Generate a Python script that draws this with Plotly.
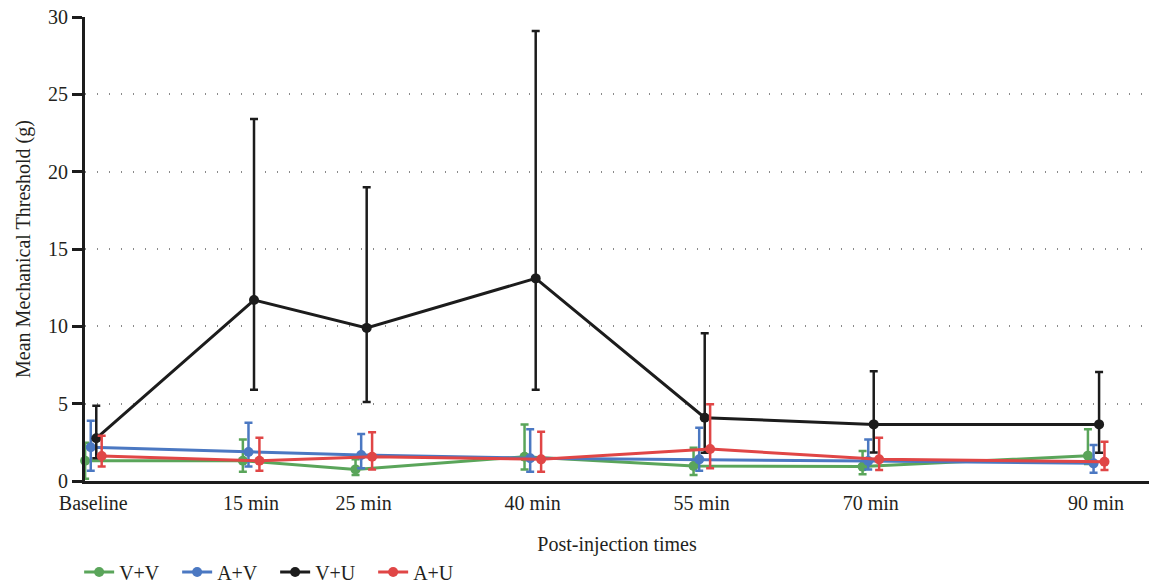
import plotly.graph_objects as go

# ---- data ----
time_labels = ["Baseline", "15 min", "25 min", "40 min", "55 min", "70 min", "90 min"]
time_pos = [1, 15, 25, 40, 55, 70, 90]

series_names = ["V+V", "A+V", "V+U", "A+U"]

vv_mean = [1.31, 1.31, 0.75, 1.57, 0.97, 0.93, 1.64]
vv_upper = [2.48, 2.69, 1.40, 3.66, 2.15, 1.94, 3.34]
vv_lower = [0.14, 0.60, 0.39, 0.75, 0.39, 0.43, 1.10]

av_mean = [2.18, 1.87, 1.68, 1.47, 1.40, 1.29, 1.14]
av_upper = [3.90, 3.77, 3.04, 3.34, 3.45, 2.69, 2.33]
av_lower = [0.67, 0.93, 0.82, 0.60, 0.67, 0.75, 0.54]

vu_mean = [2.76, 11.7, 9.9, 13.1, 4.09, 3.66, 3.66]
vu_upper = [4.87, 23.4, 19.0, 29.1, 9.55, 7.10, 7.05]
vu_lower = [1.47, 5.9, 5.1, 5.9, 1.83, 1.85, 1.83]

au_mean = [1.62, 1.31, 1.57, 1.40, 2.07, 1.40, 1.25]
au_upper = [2.93, 2.80, 3.15, 3.19, 4.96, 2.80, 2.54]
au_lower = [0.93, 0.67, 0.75, 0.60, 0.82, 0.71, 0.71]

# ---- styles ----
colors = ["#5aa55a", "#4b78c2", "#1c1c1c", "#e04646"]
dodge = [-0.72, -0.22, 0.27, 0.75]
font_family = "Liberation Serif"
text_color = "#231f20"

all_series = [
    (vv_mean, vv_upper, vv_lower),
    (av_mean, av_upper, av_lower),
    (vu_mean, vu_upper, vu_lower),
    (au_mean, au_upper, au_lower),
]

fig = go.Figure()
for name, (m, up, lo), col, dx in zip(series_names, all_series, colors, dodge):
    fig.add_trace(go.Scatter(
        x=[t + dx for t in time_pos],
        y=m,
        name=name,
        mode="lines+markers",
        line=dict(color=col, width=3),
        marker=dict(color=col, size=10),
        error_y=dict(
            type="data",
            symmetric=False,
            array=[u - v for u, v in zip(up, m)],
            arrayminus=[v - l for v, l in zip(m, lo)],
            color=col,
            thickness=2.5,
            width=4,
        ),
        cliponaxis=False,
    ))

fig.update_layout(
    width=1149,
    height=584,
    margin=dict(l=85, r=0, t=17, b=103, autoexpand=False),
    plot_bgcolor="white",
    paper_bgcolor="white",
    font=dict(family=font_family, size=20, color=text_color),
    showlegend=True,
    legend=dict(
        orientation="h",
        x=-0.0055,
        xanchor="left",
        y=-0.196,
        yanchor="middle",
        font=dict(size=20),
        itemwidth=30,
        entrywidth=53,
        traceorder="normal",
    ),
    xaxis=dict(
        range=[0.27, 94.7],
        tickmode="array",
        tickvals=time_pos,
        ticktext=time_labels,
        showgrid=False,
        zeroline=False,
        showline=True,
        linecolor="#1c1c1c",
        linewidth=3,
        ticks="",
        ticklabelstandoff=2,
        ticklabeloverflow="allow",
        automargin=False,
        title=dict(text="Post-injection times", standoff=24, font=dict(size=20)),
    ),
    yaxis=dict(
        range=[0, 30.001],
        tick0=0,
        dtick=5,
        showgrid=True,
        gridcolor="#8a8a8a",
        gridwidth=1.5,
        griddash="1px,11px",
        zeroline=False,
        showline=True,
        linecolor="#1c1c1c",
        linewidth=3,
        ticks="outside",
        ticklen=10,
        tickwidth=2.5,
        tickcolor="#1c1c1c",
        ticklabelstandoff=0,
        ticklabeloverflow="allow",
        automargin=False,
        title=dict(text="Mean Mechanical Threshold (g)", standoff=13, font=dict(size=20)),
    ),
)

# remove the browser's default body margin so the figure sits at the page origin
fig.write_html(
    "out.html",
    config={"displayModeBar": False},
    post_script="document.body.style.margin='0';",
)
